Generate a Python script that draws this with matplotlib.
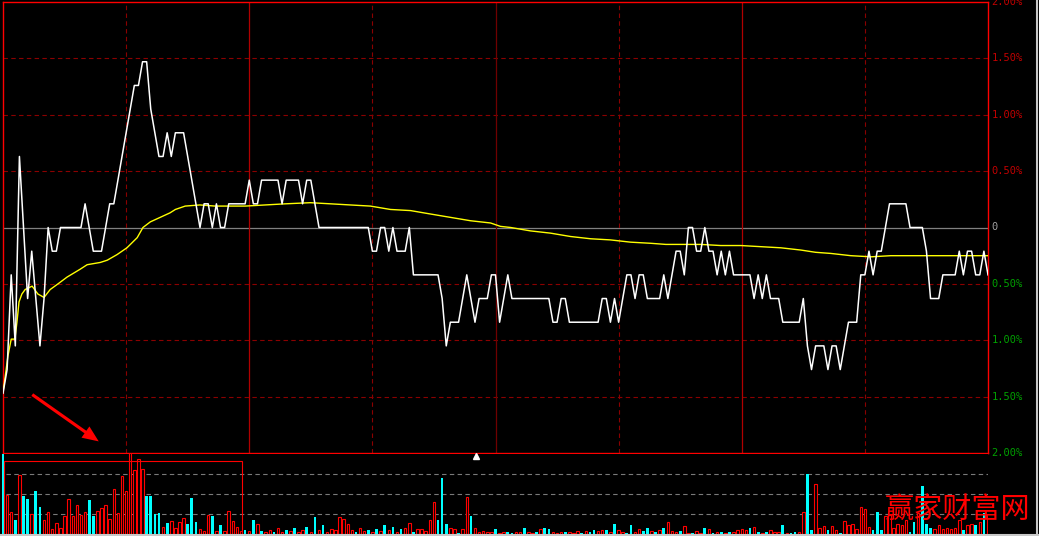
import numpy as np
import matplotlib.pyplot as plt
from matplotlib.lines import Line2D
from matplotlib.patches import Rectangle, FancyArrowPatch

# price path in ticks (1 tick = 0.21 %), one value per minute
price_ticks = [
    -7, -6, -2, -5, 3, 0, -3, -1, -3, -5, -3, 0,
    -1, -1, 0, 0, 0, 0, 0, 0,
    1, 0, -1, -1, -1, 0, 1, 1, 2, 3,
    4, 5, 6, 6, 7, 7, 5, 4, 3, 3,
    4, 3, 4, 4, 4, 3, 2, 1, 0, 1,
    1, 0, 1, 0, 0, 1, 1, 1, 1, 1,
    2, 1, 1, 2, 2, 2, 2, 2, 1, 2,
    2, 2, 2, 1, 2, 2, 1, 0, 0, 0,
    0, 0, 0, 0, 0, 0, 0, 0, 0, 0,
    -1, -1, 0, 0, -1, 0, -1, -1, -1, 0,
    -2, -2, -2, -2, -2, -2, -2, -3, -5, -4,
    -4, -4, -3, -2, -3, -4, -3, -3, -3, -2,
    -2, -4, -3, -2, -3, -3, -3, -3, -3, -3,
    -3, -3, -3, -3, -4, -4, -3, -3, -4, -4,
    -4, -4, -4, -4, -4, -4, -3, -3, -4, -3,
    -4, -3, -2, -2, -3, -2, -2, -3, -3, -3,
    -3, -2, -3, -2, -1, -1, -2, 0, 0, -1,
    -1, 0, -1, -1, -2, -1, -2, -1, -2, -2,
    -2, -2, -2, -3, -2, -3, -2, -3, -3, -3,
    -4, -4, -4, -4, -4, -3, -5, -6, -5, -5,
    -5, -6, -5, -5, -6, -5, -4, -4, -4, -2,
    -2, -1, -2, -1, -1, 0, 1, 1, 1, 1,
    1, 0, 0, 0, 0, -1, -3, -3, -3, -2,
    -2, -2, -2, -1, -2, -1, -1, -2, -2, -1, -2,
]
tick_pct = 0.21

# average price line (minute, %)
avg_min = [0, 0.5, 1.2, 2, 2.9, 3.4, 3.9, 4.6, 5.4, 7.1, 8.5, 10, 11.5, 13.4,
           15.6, 18.8, 20.5, 23.7, 25.4, 27.8, 30.2, 32.7, 34.1, 35.9, 38.3,
           40.7, 42, 44.4, 48, 51.7, 59, 63.9, 68.8, 74.9, 79.8, 84.6, 89.5,
           94.4, 99.3, 104.1, 109, 113.9, 118.8, 121.2, 123.7, 128.5, 133.4,
           138.3, 143.2, 148, 152.9, 157.8, 161.5, 170, 174.9, 179.8, 184.6,
           189.5, 194.4, 198, 201.7, 206.6, 211.5, 216.3, 240]
avg_pct = [-1.46, -1.33, -1.14, -0.99, -0.99, -0.84, -0.66, -0.59, -0.55, -0.52,
           -0.59, -0.62, -0.55, -0.50, -0.44, -0.37, -0.33, -0.31, -0.29, -0.24,
           -0.18, -0.09, 0.0, 0.05, 0.09, 0.13, 0.16, 0.19, 0.20, 0.19, 0.19,
           0.20, 0.21, 0.22, 0.21, 0.20, 0.19, 0.16, 0.15, 0.12, 0.09, 0.06,
           0.04, 0.01, 0.0, -0.03, -0.05, -0.08, -0.10, -0.11, -0.13, -0.14,
           -0.15, -0.15, -0.16, -0.16, -0.17, -0.18, -0.20, -0.22, -0.23, -0.25,
           -0.26, -0.25, -0.25]

# volume per minute (grid units) and direction (1 = red, 0 = cyan)
vol = [
    6.0, 1.95, 1.1, 0.7, 2.95, 1.9, 1.75, 1.0, 2.15, 1.35, 0.7, 1.1, 0.25, 0.55,
    0.3, 0.9, 1.75, 0.9, 1.45, 0.95, 1.1, 1.7, 0.9, 1.15, 1.3, 1.45, 0.75, 2.25,
    1.05, 2.9, 2.15, 4.3, 3.2, 3.75, 3.25, 1.9, 1.9, 1.0, 1.05, 0.35, 0.55, 0.65,
    0.3, 0.6, 0.8, 0.5, 1.8, 0.6, 0.25, 0.15, 0.95, 0.9, 0.15, 0.45, 0.15, 1.15,
    0.65, 0.35, 0.15, 0.2, 0.15, 0.7, 0.5,
    0.15, 0.1, 0.2, 0.1, 0.3, 0.1, 0.2, 0.15, 0.3, 0.1, 0.2, 0.35, 0.1, 0.85,
    0.2, 0.45, 0.1, 0.25, 0.2, 0.85, 0.75, 0.5, 0.2, 0.1, 0.3, 0.15, 0.2, 0.1,
    0.25, 0.15, 0.45, 0.2, 0.35, 0.1,
    0.25, 0.3, 0.55, 0.1, 0.25, 0.25, 0.15, 0.7, 1.6, 0.7, 2.8, 0.5, 0.3, 0.25,
    0.05, 0.25, 1.85, 0.9, 0.3, 0.1, 0.15, 0.1, 0.1, 0.25, 0.05, 0.1, 0.1, 0.05,
    0.1, 0.1, 0.3, 0.1, 0.03, 0.1, 0.25, 0.3, 0.25, 0.1, 0.05, 0.1, 0.1, 0.1,
    0.05, 0.15, 0.05, 0.15, 0.1, 0.2, 0.15, 0.2, 0.2, 0.1, 0.5, 0.2, 0.1, 0.03,
    0.45, 0.1, 0.25, 0.15, 0.3, 0.15, 0.1, 0.2, 0.3, 0.6, 0.15, 0.1, 0.15, 0.4,
    0.05, 0.05, 0.15, 0.05, 0.3, 0.25, 0.05, 0.1, 0.1, 0.05, 0.1, 0.1, 0.2, 0.25,
    0.2, 0.3, 0.35, 0.1, 0.05, 0.1, 0.2, 0.1, 0.1,
    0.45, 0.05, 0.05, 0.1, 0.1, 1.1, 3.0, 0.2, 2.5, 0.3, 0.4, 0.2, 0.4, 0.2,
    0.05, 0.65, 0.45, 0.5, 0.25, 1.35, 1.25, 0.35, 0.2, 1.1, 0.2, 0.9, 0.95, 0.3,
    0.5, 0.45, 0.7, 0.1, 0.6, 1.05, 2.4, 0.5, 0.3, 0.25, 0.45, 0.25, 0.3, 0.25,
    0.3, 0.7, 0.2, 0.45, 0.5, 0.45, 0.6, 1.05, 0.95,
]
vol_up = [
    0, 1, 1, 0, 1, 0, 0, 1, 0, 0, 1, 1, 1, 1,
    1, 1, 1, 1, 1, 1, 1, 0, 0, 1, 1, 1, 1, 1,
    1, 1, 1, 1, 1, 1, 1, 0, 0, 0, 0, 1, 0, 1,
    1, 1, 1, 0, 0, 0, 1, 1, 1, 0, 1, 0, 1, 1,
    1, 1, 1, 0, 1, 0, 1,
    0, 1, 1, 0, 1, 1, 0, 1, 0, 1, 1, 0, 1, 0,
    1, 0, 1, 1, 1, 1, 1, 1, 1, 0, 1, 1, 0, 1,
    0, 1, 0, 1, 0, 1,
    0, 1, 1, 0, 1, 1, 1, 1, 1, 0, 0, 0, 1, 1,
    0, 1, 1, 0, 1, 1, 1, 1, 1, 0, 1, 1, 0, 0,
    1, 1, 0, 1, 1, 0, 1, 0, 0, 1, 1, 1, 0, 1,
    1, 1, 0, 1, 0, 0, 1, 1, 0, 1, 0, 1, 1, 0,
    0, 1, 1, 0, 0, 1, 0, 1, 0, 1, 1, 1, 0, 1,
    1, 0, 1, 1, 0, 1, 0, 1, 0, 1, 0, 1, 1, 1,
    1, 0, 1, 0, 1, 0, 1, 1, 1,
    0, 1, 0, 0, 1, 1, 0, 0, 1, 1, 1, 0, 1, 1,
    0, 1, 1, 1, 1, 1, 1, 1, 0, 0, 0, 1, 1, 1,
    1, 1, 1, 0, 0, 1, 0, 0, 0, 1, 1, 1, 1, 1,
    1, 1, 0, 1, 1, 0, 1, 0, 1,
]

axis_levels = [2.0, 1.5, 1.0, 0.5, 0.0, -0.5, -1.0, -1.5, -2.0]
axis_labels = ['2.00%', '1.50%', '1.00%', '0.50%', '0', '0.50%', '1.00%', '1.50%', '2.00%']

W, H = 1039, 536
fig = plt.figure(figsize=(W / 100, H / 100), dpi=100, facecolor='black')


def fx(px):
    return px / W


def fy(py):
    return 1 - py / H


ax = fig.add_axes([fx(3), fy(453), fx(988) - fx(3), fy(2) - fy(453)])
# volume panel starts 2 px further left so the first bar is not cut
ax_v = fig.add_axes([fx(1), fy(535.5), fx(988) - fx(1), fy(453.5) - fy(535.5)])

# ---- price panel
ax.set_facecolor('black')
ax.set_xlim(0, 240)
ax.set_ylim(-2, 2)
for s in ax.spines.values():
    s.set_color('#ff0000')
    s.set_linewidth(1.0)
ax.set_xticks([])
ax.set_yticks([])

dash = (0, (4, 3))
for v in [1.5, 1.0, 0.5, -0.5, -1.0, -1.5]:
    ax.axhline(v, color='#8b0000', ls=dash, lw=0.8, zorder=1)
ax.axhline(0, color='#808080', lw=0.9, zorder=1)
for m in [30, 90, 150, 210]:
    ax.axvline(m, color='#8b0000', ls=dash, lw=0.8, zorder=1)
for m in [60, 180]:
    ax.axvline(m, color='#b00000', lw=0.9, zorder=1)
ax.axvline(120, color='#700000', lw=0.9, zorder=1)

minutes = np.arange(len(price_ticks))
price_pct = np.array(price_ticks) * tick_pct
ax.plot(avg_min, avg_pct, color='#ffff00', lw=1.0, zorder=3)
ax.plot(minutes, price_pct, color='white', lw=1.1, zorder=4)

ytr = ax.get_yaxis_transform()
for v, lab in zip(axis_levels, axis_labels):
    if v > 0:
        c = '#c00000'
    elif v < 0:
        c = '#00a000'
    else:
        c = '#a0a0a0'
    ax.text(1.0035, v, lab, transform=ytr, color=c, fontsize=7.5,
            family='DejaVu Sans Mono', ha='left', va='center', clip_on=False)

# ---- volume panel
px_per_min = (988 - 3) / 240
ax_v.set_facecolor('black')
ax_v.set_xlim(-2 / px_per_min, 240)
ax_v.set_ylim(-0.075, 4.025)
for s in ax_v.spines.values():
    s.set_visible(False)
ax_v.set_xticks([])
ax_v.set_yticks([])
for g in [1, 2, 3]:
    ax_v.axhline(g, xmin=0.005, color='#7a7a7a', ls=dash, lw=0.8, zorder=0)

vx = np.arange(len(vol))
vol = np.array(vol)
up = np.array(vol_up) == 1
ax_v.bar(vx[up], vol[up], width=0.6, facecolor='black', edgecolor='#ff0000',
         lw=0.8, zorder=2)
ax_v.bar(vx[~up], vol[~up], width=0.65, color='#00ffff', lw=0, zorder=2)

# ---- decorations
fig.add_artist(Rectangle((fx(4), fy(535)), fx(242) - fx(4), fy(461) - fy(535),
                         transform=fig.transFigure, fill=False,
                         edgecolor='#ff0000', lw=0.8))
fig.add_artist(Line2D([0, 1], [fy(535), fy(535)], transform=fig.transFigure,
                      color='#c8c8c8', lw=1.5))
fig.add_artist(Line2D([fx(1037), fx(1037)], [0, 1], transform=fig.transFigure,
                      color='#c8c8c8', lw=1.5))
fig.add_artist(Line2D([fx(476)], [fy(455.5)], transform=fig.transFigure,
                      marker='^', color='white', markersize=5, lw=0))
fig.add_artist(FancyArrowPatch((fx(30), fy(393)), (fx(101), fy(443)),
                               transform=fig.transFigure,
                               arrowstyle='simple,head_length=1.3,head_width=1.1,tail_width=0.25',
                               mutation_scale=9, color='#ff0000', lw=0))

fig.text(fx(958), fy(510), '赢家财富网', color='#ff0000', fontsize=21,
         family=['Noto Sans CJK SC', 'DejaVu Sans'], ha='center', va='center',
         fontweight='light')

fig.savefig('out.png', dpi=100, facecolor='black')
